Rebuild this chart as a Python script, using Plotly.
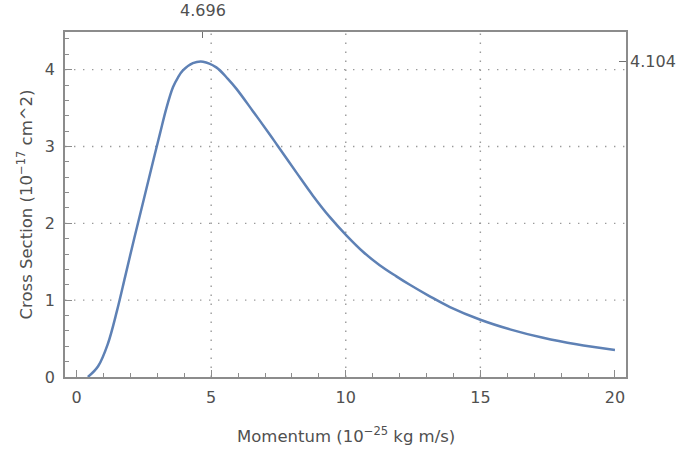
import plotly.graph_objects as go

# Cross section vs. momentum curve (units: 1e-25 kg m/s, 1e-17 cm^2)
MOMENTUM = [0.42, 0.80, 1.16, 1.50, 1.80, 2.05, 2.30, 2.60, 2.90, 3.10, 3.33,
            3.58, 3.77, 3.95, 4.32, 4.696, 5.19, 5.62, 5.94, 6.55, 7.17, 7.45,
            8.17, 8.78, 9.41, 10.03, 10.64, 11.26, 11.88, 12.38, 13.12, 13.87,
            15.0, 16.1, 17.33, 18.57, 20.0]
CROSS_SECTION = [0.0, 0.14, 0.43, 0.86, 1.30, 1.67, 2.03, 2.46, 2.89, 3.17, 3.49,
                 3.77, 3.90, 3.99, 4.085, 4.104, 4.03, 3.88, 3.75, 3.46, 3.16, 3.02,
                 2.66, 2.36, 2.08, 1.84, 1.63, 1.455, 1.31, 1.20, 1.05, 0.91,
                 0.745, 0.62, 0.51, 0.425, 0.35]

# Peak location marked on the top and right frame edges
PEAK_X = 4.696
PEAK_Y = 4.104

X_TICKS = [0, 5, 10, 15, 20]
Y_TICKS = [0, 1, 2, 3, 4]
GRID_X = [5, 10, 15]
GRID_Y = [1, 2, 3, 4]

X_RANGE = [-0.43, 20.41]
Y_RANGE = [0, 4.49]

FONT = "DejaVu Sans, Liberation Sans, Arial, sans-serif"
TEXT = "#505050"
FRAME = "#8c8c8c"
GRID = "#9a9a9a"
CURVE = "#5E81B5"

fig = go.Figure()
fig.add_trace(go.Scatter(
    x=MOMENTUM, y=CROSS_SECTION, mode="lines",
    line=dict(color=CURVE, width=2.5, shape="spline", smoothing=1.0),
    hoverinfo="x+y", showlegend=False,
))
# invisible point that carries the secondary (peak) axes
fig.add_trace(go.Scatter(
    x=[PEAK_X], y=[PEAK_Y], xaxis="x2", yaxis="y2", mode="markers",
    marker=dict(opacity=0), hoverinfo="skip", showlegend=False,
))

for gx in GRID_X:
    fig.add_shape(type="line", xref="x", yref="y domain", x0=gx, x1=gx, y0=0, y1=1,
                  line=dict(color=GRID, width=1.4, dash="1.4px,7.6px"), layer="below")
for gy in GRID_Y:
    fig.add_shape(type="line", xref="x domain", yref="y", x0=0, x1=1, y0=gy, y1=gy,
                  line=dict(color=GRID, width=1.4, dash="1.4px,7.6px"), layer="below")

tick_font = dict(family=FONT, size=16, color=TEXT)
title_font = dict(family=FONT, size=16.5, color=TEXT)

fig.update_layout(
    width=678, height=454,
    margin=dict(l=65, r=52, t=32, b=77),
    paper_bgcolor="white", plot_bgcolor="white",
    xaxis=dict(
        range=X_RANGE, tickvals=X_TICKS, ticks="inside", ticklen=7, tickwidth=1.2,
        tickcolor=FRAME, showline=True, linecolor=FRAME, linewidth=1.5, mirror=True,
        showgrid=False, zeroline=False, tickfont=tick_font, ticklabelstandoff=5,
        automargin=False,
        minor=dict(dtick=1, ticks="inside", ticklen=4, tickwidth=1.2, tickcolor=FRAME,
                   showgrid=False),
    ),
    yaxis=dict(
        range=Y_RANGE, tickvals=Y_TICKS, ticks="inside", ticklen=7, tickwidth=1.2,
        tickcolor=FRAME, showline=True, linecolor=FRAME, linewidth=1.5, mirror=True,
        showgrid=False, zeroline=False, tickfont=tick_font, ticklabelstandoff=5,
        automargin=False,
        minor=dict(dtick=0.2, ticks="inside", ticklen=4, tickwidth=1.2, tickcolor=FRAME,
                   showgrid=False),
    ),
    xaxis2=dict(
        overlaying="x", side="top", anchor="y", range=X_RANGE,
        tickvals=[PEAK_X], ticktext=[f"{PEAK_X:.3f}"], ticks="inside", ticklen=6,
        tickwidth=1.2, tickcolor="#707070", showline=False, showgrid=False,
        zeroline=False, tickfont=tick_font, ticklabelstandoff=12, automargin=False,
    ),
    yaxis2=dict(
        overlaying="y", side="right", anchor="x", range=Y_RANGE,
        tickvals=[PEAK_Y], ticktext=[f"{PEAK_Y:.3f}"], ticks="inside", ticklen=7,
        tickwidth=1.2, tickcolor="#707070", showline=False, showgrid=False,
        zeroline=False, tickfont=tick_font, ticklabelstandoff=3, automargin=False,
    ),
    annotations=[
        dict(text="Momentum (10<sup>\u221225</sup> kg m/s)", xref="paper", yref="paper",
             x=0.5, y=0, xanchor="center", yanchor="middle", yshift=-58,
             showarrow=False, font=title_font),
        dict(text="Cross Section (10<sup>\u221217</sup> cm^2)", xref="paper", yref="paper",
             x=0, y=0.5, xanchor="center", yanchor="middle", xshift=-40, textangle=-90,
             showarrow=False, font=title_font),
    ],
)

fig.write_html("out.html")
